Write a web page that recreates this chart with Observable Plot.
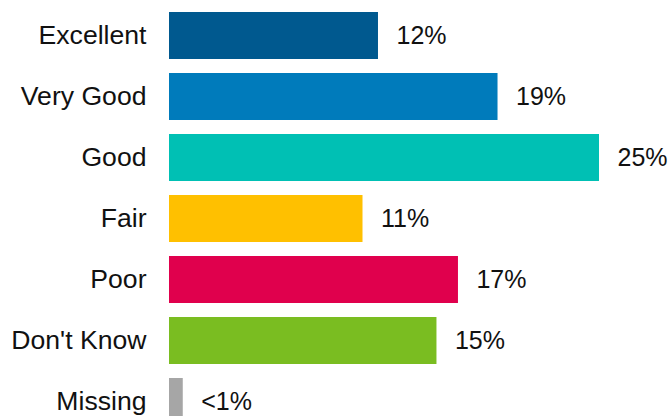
<!DOCTYPE html>
<html>
<head>
<meta charset="utf-8">
<script src="https://cdn.jsdelivr.net/npm/d3@7"></script>
<script src="https://cdn.jsdelivr.net/npm/@observablehq/plot@0.6"></script>
<style>
  html, body { margin: 0; padding: 0; background: #fff; overflow: hidden; }
  #chart svg { display: block; }
</style>
</head>
<body>
<div id="chart"></div>
<script>
const categories = ["Excellent", "Very Good", "Good", "Fair", "Poor", "Don't Know", "Missing"];
const values = [12.15, 19.1, 25.0, 11.25, 16.8, 15.55, 0.8];
const valueLabels = ["12%", "19%", "25%", "11%", "17%", "15%", "<1%"];
const colors = ["#00598F", "#007BBB", "#00C0B4", "#FFC000", "#E0004D", "#7ABD21", "#A6A6A6"];

const data = categories.map((c, i) => ({category: c, value: values[i], label: valueLabels[i], color: colors[i]}));

const chart = Plot.plot({
  width: 670,
  height: 416,
  marginLeft: 169,
  marginRight: 0,
  marginTop: 0,
  marginBottom: 0,
  style: {fontFamily: "'Liberation Sans', Arial, sans-serif", background: "#fff", overflow: "hidden"},
  x: {domain: [0, 25], range: [169, 599], axis: null},
  y: {domain: categories, range: [-2, 439], padding: 0.2295, align: 0.5, label: null},
  marks: [
    Plot.barX(data, {x: "value", y: "category", fill: "color"}),
    Plot.text(data, {x: "value", y: "category", text: "label", textAnchor: "start", dx: 18, dy: 0, fontSize: 25, fill: "#111"}),
    Plot.axisY({tickSize: 0, tickPadding: 23, fontSize: 26.6, dy: -1, label: null, color: "#111"})
  ]
});
document.getElementById("chart").append(chart);
</script>
</body>
</html>
